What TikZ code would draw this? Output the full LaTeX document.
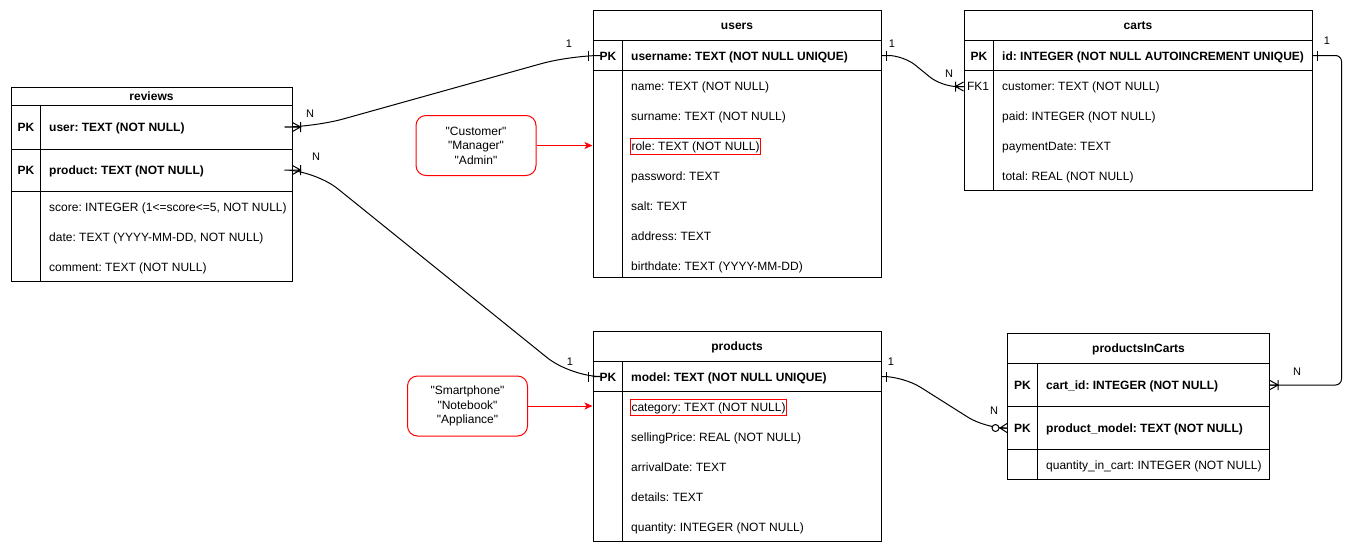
\documentclass[tikz,border=0pt]{standalone}
\usepackage{fontspec}
\setmainfont{Liberation Sans}
\usetikzlibrary{calc,arrows.meta}

\tikzset{
  tbl/.style={draw, line width=1pt, inner sep=0pt},
  tbltitle/.style={tbl, font=\fontsize{12}{14.5}\selectfont\bfseries, text height=10.7pt, text depth=2.6pt},
  tblline/.style={line width=1pt},
  keytxt/.style={font=\fontsize{12}{14.5}\selectfont\bfseries, text height=10.7pt, text depth=2.6pt, inner sep=1pt},
  fieldtxt/.style={anchor=west, text height=10.7pt, text depth=2.6pt, inner sep=1pt},
  hilite/.style={draw=red, line width=1pt},
  notebox/.style={draw=red, line width=1pt, rounded corners=10pt, align=center, minimum width=120pt, minimum height=60pt},
  notearrow/.style={draw=red, line width=1pt, -{Stealth[length=8pt,width=7pt,inset=2pt]}},
  conn/.style={line width=1pt},
  cardlbl/.style={font=\fontsize{11}{13}\selectfont, inner sep=0pt},
  pics/erone/.style={code={\draw[conn] (-4.5,-5) -- (-4.5,5);}},
  pics/ermany/.style={code={\draw[conn] (0,-4.5) -- (-8,0) -- (0,4.5) (0,0) -- (-8,0) (-8,-5) -- (-8,5);}},
  pics/erzeromany/.style={code={\draw[conn] (0,-4.5) -- (-7,0) -- (0,4.5) (0,0) -- (-7,0);
                                \draw[conn, fill=white] (-11.5,0) circle[radius=3.5pt];}},
}
\newcommand{\qq}[1]{\textquotedbl#1\textquotedbl}

\begin{document}
\frenchspacing
\begin{tikzpicture}[x=1pt, y=-1pt, font=\fontsize{12}{14.5}\selectfont]
\useasboundingbox (0,0) rectangle (1362,552);

% reviews
\node (reviews) at (151.5,96) [tbltitle, minimum width=281pt, minimum height=18pt]{reviews};
\node (reviews-user) at (151.5,127) [tbl, minimum width=281pt, minimum height=44pt]{};
\node (reviews-product) at (151.5,170) [tbl, minimum width=281pt, minimum height=42pt]{};
\node (reviews-body) at (151.5,236) [tbl, minimum width=281pt, minimum height=90pt]{};
\draw [tblline] ([xshift=30pt]reviews-user.north west) -- ([xshift=30pt]reviews-body.south west);

\node (reviews-pk1) at (26,127.5) [keytxt]{PK};
\node (reviews-f1) at (48,127.5) [keytxt, anchor=west]{user: TEXT (NOT NULL)};
\node (reviews-pk2) at (26,170.5) [keytxt]{PK};
\node (reviews-f2) at (48,170.5) [keytxt, anchor=west]{product: TEXT (NOT NULL)};
\node (reviews-f3) at (48,207) [fieldtxt]{score: INTEGER (1<=score<=5, NOT NULL)};
\node (reviews-f4) at (48,237) [fieldtxt]{date: TEXT (YYYY-MM-DD, NOT NULL)};
\node (reviews-f5) at (48,267) [fieldtxt]{comment: TEXT (NOT NULL)};

% users
\node (users) at (737,25.5) [tbltitle, minimum width=288pt, minimum height=30pt]{users};
\node (users-pk) at (737,55.5) [tbl, minimum width=288pt, minimum height=30pt]{};
\node (users-body) at (737,173.75) [tbl, minimum width=288pt, minimum height=206.5pt]{};
\draw [tblline] ([xshift=30pt]users-pk.north west) -- ([xshift=30pt]users-body.south west);

\node (users-pk1) at (608,56) [keytxt]{PK};
\node (users-f1) at (630,56) [keytxt, anchor=west]{username: TEXT (NOT NULL UNIQUE)};
\node (users-f2) at (630,86.5) [fieldtxt]{name: TEXT (NOT NULL)};
\node (users-f3) at (630,116.5) [fieldtxt]{surname: TEXT (NOT NULL)};
\node (users-f4) at (630,146.5) [fieldtxt, hilite]{role: TEXT (NOT NULL)};
\node (users-f5) at (630,176.5) [fieldtxt]{password: TEXT};
\node (users-f6) at (630,206.5) [fieldtxt]{salt: TEXT};
\node (users-f7) at (630,236.5) [fieldtxt]{address: TEXT};
\node (users-f8) at (630,266.5) [fieldtxt]{birthdate: TEXT (YYYY-MM-DD)};

% carts
\node (carts) at (1138,25.5) [tbltitle, minimum width=348pt, minimum height=30pt]{carts};
\node (carts-pk) at (1138,55.5) [tbl, minimum width=348pt, minimum height=30pt]{};
\node (carts-body) at (1138,130.5) [tbl, minimum width=348pt, minimum height=120pt]{};
\draw [tblline] ([xshift=30pt]carts-pk.north west) -- ([xshift=30pt]carts-body.south west);

\node (carts-pk1) at (979,56) [keytxt]{PK};
\node (carts-f1) at (1001,56) [keytxt, anchor=west]{id: INTEGER (NOT NULL AUTOINCREMENT UNIQUE)};
\node (carts-fk) at (978,86.5) [fieldtxt, anchor=center]{FK1};
\node (carts-f2) at (1001,86.5) [fieldtxt]{customer: TEXT (NOT NULL)};
\node (carts-f3) at (1001,116.5) [fieldtxt]{paid: INTEGER (NOT NULL)};
\node (carts-f4) at (1001,146.5) [fieldtxt]{paymentDate: TEXT};
\node (carts-f5) at (1001,176.5) [fieldtxt]{total: REAL (NOT NULL)};

% products
\node (products) at (737,346.5) [tbltitle, minimum width=288pt, minimum height=30pt]{products};
\node (products-pk) at (737,376.5) [tbl, minimum width=288pt, minimum height=30pt]{};
\node (products-body) at (737,466.25) [tbl, minimum width=288pt, minimum height=149.5pt]{};
\draw [tblline] ([xshift=30pt]products-pk.north west) -- ([xshift=30pt]products-body.south west);

\node (products-pk1) at (608,377) [keytxt]{PK};
\node (products-f1) at (630,377) [keytxt, anchor=west]{model: TEXT (NOT NULL UNIQUE)};
\node (products-f2) at (630,407.5) [fieldtxt, hilite]{category: TEXT (NOT NULL)};
\node (products-f3) at (630,437.5) [fieldtxt]{sellingPrice: REAL (NOT NULL)};
\node (products-f4) at (630,467.5) [fieldtxt]{arrivalDate: TEXT};
\node (products-f5) at (630,497.5) [fieldtxt]{details: TEXT};
\node (products-f6) at (630,527.5) [fieldtxt]{quantity: INTEGER (NOT NULL)};

% productsInCarts
\node (pic) at (1138.5,348.5) [tbltitle, minimum width=262pt, minimum height=30pt]{productsInCarts};
\node (pic-cart) at (1138.5,385) [tbl, minimum width=262pt, minimum height=43pt]{};
\node (pic-model) at (1138.5,428) [tbl, minimum width=262pt, minimum height=43pt]{};
\node (pic-body) at (1138.5,464.5) [tbl, minimum width=262pt, minimum height=30pt]{};
\draw [tblline] ([xshift=30pt]pic-cart.north west) -- ([xshift=30pt]pic-body.south west);

\node (pic-pk1) at (1022.5,385.5) [keytxt]{PK};
\node (pic-f1) at (1045,385.5) [keytxt, anchor=west]{cart\_id: INTEGER (NOT NULL)};
\node (pic-pk2) at (1022.5,428.5) [keytxt]{PK};
\node (pic-f2) at (1045,428.5) [keytxt, anchor=west]{product\_model: TEXT (NOT NULL)};
\node (pic-f3) at (1045,465.5) [fieldtxt]{quantity\_in\_cart: INTEGER (NOT NULL)};

% notes
\node (rolenote) at (476,145.5) [notebox]{\qq{Customer}\\\qq{Manager}\\\qq{Admin}};
\node (catnote) at (467.5,406) [notebox]{\qq{Smartphone}\\\qq{Notebook}\\\qq{Appliance}};
\draw [notearrow] (rolenote) -- (rolenote -| users-body.west);
\draw [notearrow] (catnote) -- (catnote -| products-body.west);

% relations
\draw [conn, rounded corners=30pt] (reviews-user.east) -- ++(22,0) -- ($(users-pk.west)+(-22,0)$) -- (users-pk.west);
\pic [xscale=-1] at (reviews-user.east) {ermany};
\pic at (users-pk.west) {erone};

\draw [conn, rounded corners=30pt] (reviews-product.east) -- ++(22,0) -- ($(products-pk.west)+(-22,0)$) -- (products-pk.west);
\pic [xscale=-1] at (reviews-product.east) {ermany};
\pic at (products-pk.west) {erone};

\draw [conn, rounded corners=15pt] (users-pk.east) -- ++(22,0) -- ($(carts-body.west |- carts-fk)+(-22,0)$) -- (carts-body.west |- carts-fk);
\pic [xscale=-1] at (users-pk.east) {erone};
\pic at (carts-body.west |- carts-fk) {ermany};

\draw [conn, rounded corners=20pt] (products-pk.east) -- ++(22,0) -- ($(pic-model.west)+(-22,0)$) -- (pic-model.west);
\pic [xscale=-1] at (products-pk.east) {erone};
\pic at (pic-model.west) {erzeromany};

\draw [conn, rounded corners=6pt] (carts-pk.east) -- ++(29,0) |- (pic-cart.east);
\pic [xscale=-1] at (carts-pk.east) {erone};
\pic [xscale=-1] at (pic-cart.east) {ermany};

\node (c1-n) at (310,114) [cardlbl]{N};
\node (c1-one) at (569,44) [cardlbl]{1};
\node (c2-n) at (316,157) [cardlbl]{N};
\node (c2-one) at (570,362) [cardlbl]{1};
\node (c3-one) at (892,44) [cardlbl]{1};
\node (c3-n) at (949,74) [cardlbl]{N};
\node (c4-one) at (891,362) [cardlbl]{1};
\node (c4-n) at (994,411) [cardlbl]{N};
\node (c5-one) at (1327,41) [cardlbl]{1};
\node (c5-n) at (1297,372) [cardlbl]{N};

\end{tikzpicture}
\end{document}
